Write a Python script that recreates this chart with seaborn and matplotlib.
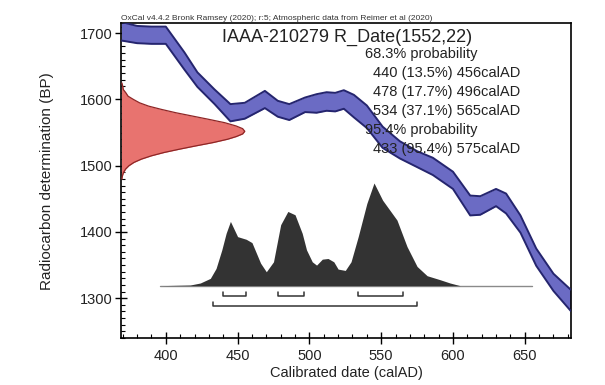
import matplotlib
matplotlib.use("Agg")
import matplotlib.pyplot as plt
import seaborn as sns
import pandas as pd
from matplotlib.ticker import MultipleLocator

# CALIBRATION CURVE: year calAD, centre BP, 1 sigma
cal_years = [369, 380, 390, 400, 413, 422, 434, 445, 455, 469, 478, 486, 497, 505,
             512, 518, 524, 531, 540, 551, 563, 575, 586, 600, 612, 619, 630, 637,
             647, 658, 670, 682]
curve_bp = [1703, 1698, 1697, 1697, 1658, 1630, 1604, 1580, 1583, 1600, 1586, 1581,
            1592, 1594, 1597, 1596, 1600, 1590, 1574, 1543, 1524, 1510, 1499, 1478,
            1440, 1440, 1452, 1443, 1412, 1362, 1324, 1297]
curve_err = [14, 13, 13, 13, 13, 11, 11, 13, 12, 13, 12, 12, 11, 14, 14, 14, 14, 17,
             17, 16, 13, 12, 13, 13, 15, 14, 13, 15, 13, 13, 13, 16]

# measured date R_Date(1552,22), drawn against the y axis
date_bp = [1625, 1620, 1615, 1610, 1605, 1600, 1595, 1590, 1585, 1580, 1575, 1570,
           1565, 1560, 1556, 1552, 1548, 1544, 1540, 1535, 1530, 1525, 1520, 1515,
           1510, 1505, 1500, 1495, 1490, 1485, 1480]
date_width = [0.4, 1, 1.4, 3.2, 4.7, 8.5, 12.7, 19, 28, 38, 49.5, 61, 72, 80, 84.5,
              86, 84.5, 80, 74, 64, 52, 40.5, 29.8, 21, 14, 8.8, 5.3, 3, 1.6, 0.8, 0.4]

# calibrated distribution
post_years = [396, 417, 424, 431, 435, 439, 442, 445, 450, 456, 460, 466, 470, 475,
              480, 485, 490, 495, 498, 502, 505, 509, 513, 517, 520, 525, 529, 534,
              540, 545, 551, 561, 568, 575, 582, 591, 598, 605]
post_height = [0, 1, 4, 11, 26, 54, 79, 97, 74, 70, 65, 34, 21, 36, 92, 112, 107, 79,
               54, 36, 31, 40, 41, 36, 25, 23, 36, 74, 124, 155, 129, 99, 59, 29, 15,
               9, 4, 0]
post_base = 1319
post_line = [396, 655]

one_sigma = [(440, 456), (478, 496), (534, 565)]
two_sigma = [(433, 575)]

header = "OxCal v4.4.2 Bronk Ramsey (2020); r:5; Atmospheric data from Reimer et al (2020)"
title = "IAAA-210279 R_Date(1552,22)"
prob_lines = ["68.3% probability", "440 (13.5%) 456calAD", "478 (17.7%) 496calAD",
              "534 (37.1%) 565calAD", "95.4% probability", "433 (95.4%) 575calAD"]

sns.set_theme(style="ticks")
plt.rcParams["font.family"] = ["Liberation Sans", "DejaVu Sans"]

fig = plt.figure(figsize=(6.05, 3.85), dpi=100)
ax = fig.add_axes([121.3 / 605, (385 - 338) / 385, 449.4 / 605, (338 - 23.3) / 385])
ax.set_xlim(369, 682)
ax.set_ylim(1240, 1715)

# curve band
df_curve = pd.DataFrame({"year": cal_years, "bp": curve_bp, "err": curve_err})
df_curve["upper"] = df_curve["bp"] + df_curve["err"]
df_curve["lower"] = df_curve["bp"] - df_curve["err"]
ax.fill_between(df_curve["year"], df_curve["lower"], df_curve["upper"],
                color="#6b6bc4", lw=0, zorder=2)
sns.lineplot(data=df_curve, x="year", y="upper", color="#25256e", lw=1.4, ax=ax, zorder=3)
sns.lineplot(data=df_curve, x="year", y="lower", color="#25256e", lw=1.4, ax=ax, zorder=3)

# radiocarbon date on y axis
x0 = ax.get_xlim()[0]
df_date = pd.DataFrame({"bp": date_bp, "w": date_width})
ax.fill_betweenx(df_date["bp"], x0, x0 + df_date["w"], color="#e8736f", lw=0, zorder=2)
ax.plot(x0 + df_date["w"], df_date["bp"], color="#8e2626", lw=0.9, zorder=3)

# calibrated distribution
df_post = pd.DataFrame({"year": post_years, "h": post_height})
sns.lineplot(x=post_line, y=[post_base, post_base], color="#8a8a8a", lw=1, ax=ax, zorder=2)
ax.fill_between(df_post["year"], post_base, post_base + df_post["h"],
                color="#333333", lw=0, zorder=3)

# range brackets
for ranges, yb in [(one_sigma, 1303), (two_sigma, 1289)]:
    for a, b in ranges:
        ax.plot([a, a, b, b], [yb + 6, yb, yb, yb + 6], color="#333333", lw=1.1)

# text
ax.text(0.0, 1.004, header, transform=ax.transAxes, fontsize=6, ha="left",
        va="bottom", color="#333333")
ax.text(526, 1694, title, fontsize=13, ha="center", va="center", color="#222222")
ys = [1669, 1640, 1611, 1582, 1554, 1525]
for txt, yv in zip(prob_lines, ys):
    xv = 538.7 if "probability" in txt else 544.3
    ax.text(xv, yv, txt, fontsize=10.5, ha="left", va="center", color="#222222")

ax.xaxis.set_major_locator(MultipleLocator(50))
ax.xaxis.set_minor_locator(MultipleLocator(10))
ax.yaxis.set_major_locator(MultipleLocator(100))
ax.yaxis.set_minor_locator(MultipleLocator(10))
ax.tick_params(which="major", direction="inout", length=8, width=1, labelsize=10.5,
               color="black", labelcolor="#222222")
ax.tick_params(axis="x", which="major", pad=4)
ax.tick_params(axis="y", which="major", pad=2)
ax.tick_params(which="minor", direction="in", length=3, width=0.8, color="black")
for s in ax.spines.values():
    s.set_color("black")
    s.set_linewidth(1.2)

ax.set_xlabel("Calibrated date (calAD)", fontsize=10.5, color="#222222", labelpad=2)
ax.set_ylabel("Radiocarbon determination (BP)", fontsize=11, color="#222222", labelpad=19)

fig.savefig("out.png", dpi=100)
